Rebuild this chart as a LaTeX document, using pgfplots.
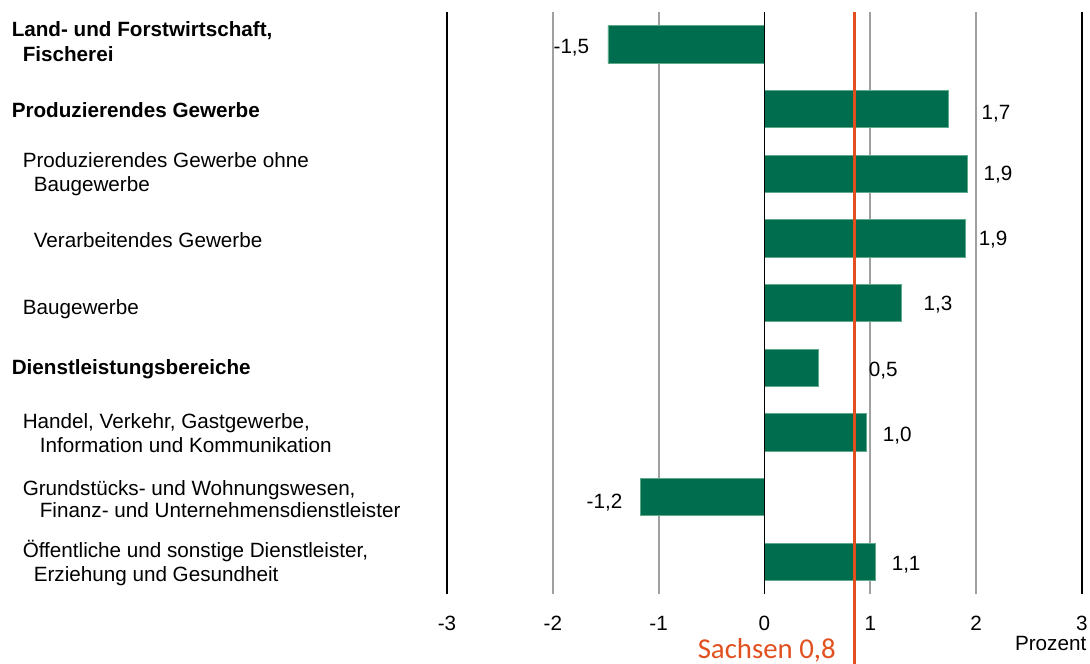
\documentclass[border=0pt]{standalone}
\usepackage{fontspec}
\setmainfont{Liberation Sans}
\newfontfamily\calibri{Carlito}
\usepackage{pgfplots}
\pgfplotsset{compat=1.18}
\definecolor{bargreen}{HTML}{006E4E}
\definecolor{baredge}{HTML}{5FA88A}
\definecolor{sachsen}{HTML}{E1501E}
\definecolor{gridgrey}{HTML}{A0A0A0}

\begin{document}
\fontsize{15.5}{18.6}\selectfont
\begin{tikzpicture}
\useasboundingbox (-335.25pt,-52.5pt) rectangle (482.25pt,445.5pt);
\begin{axis}[
  at={(0,0)}, anchor=south west,
  scale only axis, width=476.25pt, height=436.5pt,
  xmin=-3, xmax=3, ymin=0.5, ymax=9.5, y dir=reverse,
  axis line style={draw=none},
  clip=false,
  ytick=\empty,
  xtick={-2,-1,0,1,2},
  xticklabels={-2,-1,0,1,2},
  extra x ticks={-3,3},
  extra x tick labels={-3,3},
  extra x tick style={grid style={black, line width=1.6pt}},
  xmajorgrids,
  grid style={gridgrey, line width=1.3pt},
  major tick length=0pt,
  xticklabel style={anchor=base, inner sep=0pt, yshift=-27pt, font=\fontsize{15.5}{18.6}\selectfont},
]
\addplot[xbar, bar width=28pt, fill=bargreen, draw=baredge, line width=0.5pt]
  coordinates {(-1.48,1) (1.74,2) (1.92,3) (1.90,4) (1.29,5) (0.51,6) (0.96,7) (-1.17,8) (1.05,9)};
\draw[black, line width=1.1pt] (axis cs:0,0.5) -- (axis cs:0,9.5);
\addplot[sachsen, line width=1.9pt, no marks] coordinates {(0.85,0.5) (0.85,10.6)};

% value labels
\begin{scope}[every node/.style={anchor=base west, inner sep=0pt}]
\node at (axis cs:-1.995,1.134) {-1,5};
\node at (axis cs:2.050,2.155) {1,7};
\node at (axis cs:2.069,3.113) {1,9};
\node at (axis cs:2.022,4.103) {1,9};
\node at (axis cs:1.502,5.123) {1,3};
\node at (axis cs:0.983,6.144) {0,5};
\node at (axis cs:1.115,7.149) {1,0};
\node at (axis cs:-1.682,8.170) {-1,2};
\node at (axis cs:1.200,9.144) {1,1};

% category labels
\node at (axis cs:-7.115,0.871) {\bfseries Land- und Forstwirtschaft,};
\node at (axis cs:-7.011,1.258) {\bfseries Fischerei};
\node at (axis cs:-7.115,2.124) {\bfseries Produzierendes Gewerbe};
\node at (axis cs:-7.011,2.912) {Produzierendes Gewerbe ohne};
\node at (axis cs:-6.907,3.283) {Baugewerbe};
\node at (axis cs:-6.907,4.134) {Verarbeitendes Gewerbe};
\node at (axis cs:-7.011,5.170) {Baugewerbe};
\node at (axis cs:-7.115,6.113) {\bfseries Dienstleistungsbereiche};
\node at (axis cs:-7.011,6.933) {Handel, Verkehr, Gastgewerbe,};
\node at (axis cs:-6.850,7.304) {Information und Kommunikation};
\node at (axis cs:-7.011,7.984) {Grundstücks- und Wohnungswesen,};
\node at (axis cs:-6.850,8.324) {Finanz- und Unternehmensdienstleister};
\node at (axis cs:-7.011,8.943) {Öffentliche und sonstige Dienstleister,};
\node at (axis cs:-6.907,9.299) {Erziehung und Gesundheit};

\node[anchor=base east] at (axis cs:3.043,10.381) {Prozent};
\node[text=sachsen, font=\calibri\fontsize{21.6}{24}\selectfont] at (axis cs:-0.633,10.49) {Sachsen 0,8};
\end{scope}
\end{axis}
\end{tikzpicture}
\end{document}
